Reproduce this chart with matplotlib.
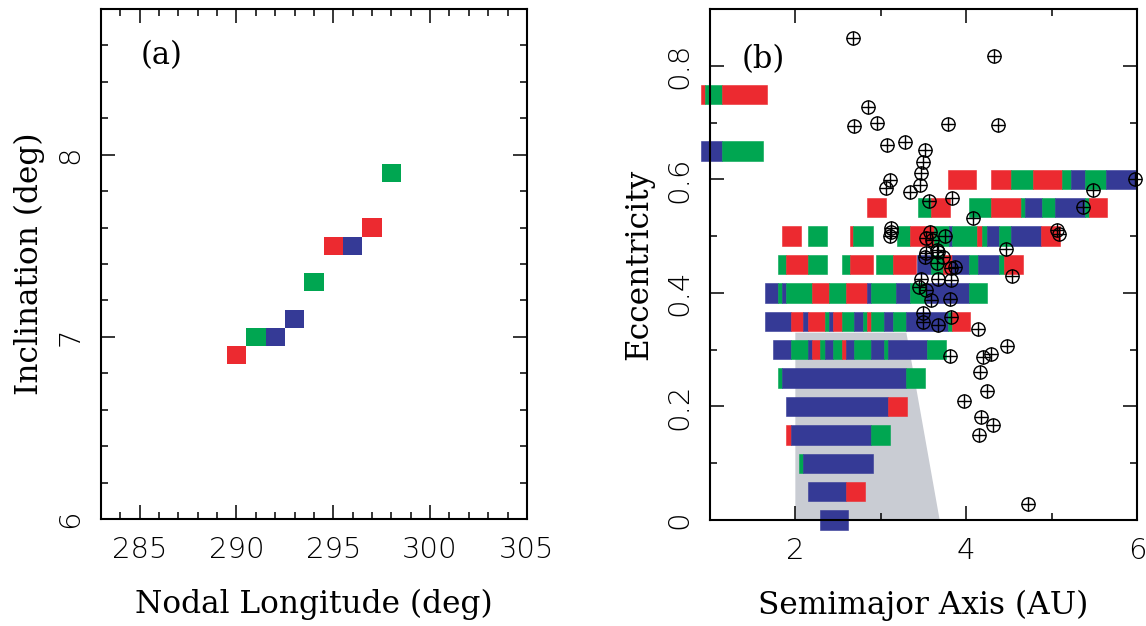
"""
Two-panel figure: (a) inclination vs nodal longitude, (b) eccentricity vs semimajor axis
"""
import numpy as np
import matplotlib.pyplot as plt
from matplotlib.patches import Polygon
from matplotlib.ticker import MultipleLocator

RED = '#ec2a30'
GREEN = '#00a651'
BLUE = '#353a96'
GREY = '#c9ccd3'
COLORS = {'r': RED, 'g': GREEN, 'b': BLUE}

# Panel (a): family members, node vs inclination
node_a = [290, 291, 292, 293, 294, 295, 296, 297, 298]
incl_a = [6.9, 7.0, 7.0, 7.1, 7.3, 7.5, 7.5, 7.6, 7.9]
col_a = ['r', 'g', 'b', 'b', 'g', 'r', 'b', 'r', 'g']

# Panel (b): coloured runs along each eccentricity row, (a_start, a_end, colour)
row_e = [0.75, 0.65, 0.60, 0.55, 0.50, 0.45, 0.40, 0.35, 0.30, 0.25, 0.20, 0.15, 0.10, 0.05, 0.00]
seg_075 = [(0.895, 0.94, 'r'), (0.94, 1.137, 'g'), (1.137, 1.667, 'r')]
seg_065 = [(0.895, 1.137, 'b'), (1.137, 1.62, 'g')]
seg_060 = [(3.787, 4.111, 'r'), (4.287, 4.528, 'r'), (4.528, 4.785, 'g'), (4.785, 5.124, 'r'),
           (5.124, 5.233, 'g'), (5.233, 5.386, 'b'), (5.386, 5.632, 'g'), (5.632, 6.0, 'b')]
seg_055 = [(2.836, 3.058, 'r'), (3.433, 3.585, 'g'), (3.585, 3.807, 'r'), (4.03, 4.287, 'g'),
           (4.287, 4.637, 'r'), (4.637, 4.684, 'g'), (4.684, 4.883, 'b'), (4.883, 5.035, 'g'),
           (5.035, 5.386, 'b'), (5.386, 5.433, 'g'), (5.433, 5.655, 'r')]
seg_050 = [(1.842, 2.064, 'r'), (2.146, 2.368, 'g'), (2.637, 2.68, 'r'), (2.68, 2.906, 'g'),
           (3.187, 3.339, 'g'), (3.339, 3.62, 'r'), (3.62, 3.80, 'g'), (3.80, 3.84, 'b'),
           (3.84, 4.13, 'g'), (4.13, 4.18, 'r'), (4.18, 4.24, 'g'), (4.24, 4.38, 'b'),
           (4.38, 4.53, 'g'), (4.53, 4.88, 'b'), (4.88, 5.10, 'r')]
seg_045 = [(1.795, 1.889, 'g'), (1.889, 2.146, 'r'), (2.146, 2.368, 'g'), (2.544, 2.637, 'g'),
           (2.637, 2.906, 'r'), (2.94, 3.14, 'g'), (3.14, 3.41, 'r'), (3.43, 3.585, 'b'),
           (3.585, 3.73, 'g'), (3.73, 3.83, 'r'), (3.83, 4.03, 'b'), (4.03, 4.14, 'g'),
           (4.14, 4.38, 'b'), (4.38, 4.44, 'g'), (4.44, 4.66, 'r')]
seg_040 = [(1.643, 1.795, 'b'), (1.795, 1.842, 'g'), (1.842, 1.889, 'b'), (1.889, 2.193, 'g'),
           (2.193, 2.392, 'r'), (2.392, 2.591, 'g'), (2.591, 2.836, 'r'), (2.836, 2.883, 'b'),
           (2.883, 3.18, 'g'), (3.18, 3.339, 'b'), (3.339, 3.53, 'g'), (3.53, 4.03, 'b'),
           (4.03, 4.25, 'g')]
seg_035 = [(1.643, 1.947, 'b'), (1.947, 2.088, 'r'), (2.088, 2.146, 'b'), (2.146, 2.345, 'r'),
           (2.345, 2.392, 'g'), (2.392, 2.439, 'b'), (2.439, 2.544, 'r'), (2.544, 2.684, 'g'),
           (2.684, 2.789, 'b'), (2.789, 2.836, 'g'), (2.836, 2.883, 'r'), (2.883, 3.035, 'g'),
           (3.035, 3.14, 'b'), (3.14, 3.29, 'g'), (3.29, 3.787, 'b'), (3.787, 3.83, 'g'),
           (3.83, 4.05, 'r')]
seg_030 = [(1.737, 1.947, 'b'), (1.947, 2.146, 'g'), (2.146, 2.193, 'b'), (2.193, 2.287, 'r'),
           (2.287, 2.345, 'g'), (2.345, 2.439, 'b'), (2.439, 2.544, 'g'), (2.544, 2.591, 'r'),
           (2.591, 2.684, 'b'), (2.684, 2.883, 'g'), (2.883, 3.035, 'b'), (3.035, 3.082, 'g'),
           (3.082, 3.538, 'b'), (3.538, 3.76, 'g')]
seg_025 = [(1.795, 1.842, 'g'), (1.842, 3.29, 'b'), (3.29, 3.515, 'g')]
seg_020 = [(1.889, 3.082, 'b'), (3.082, 3.304, 'r')]
seg_015 = [(1.889, 1.947, 'r'), (1.947, 2.883, 'b'), (2.883, 3.105, 'g')]
seg_010 = [(2.04, 2.088, 'g'), (2.088, 2.906, 'b')]
seg_005 = [(2.146, 2.591, 'b'), (2.591, 2.813, 'r')]
seg_000 = [(2.287, 2.614, 'b')]
row_segs = [seg_075, seg_065, seg_060, seg_055, seg_050, seg_045, seg_040, seg_035,
            seg_030, seg_025, seg_020, seg_015, seg_010, seg_005, seg_000]

# shaded region (a, e corners)
shade_a = [2.0, 2.0, 3.30, 3.69]
shade_e = [0.0, 0.33, 0.33, 0.0]

# known objects (circled plus)
obj_a = [2.672, 4.322, 2.856, 2.684, 2.957, 3.79, 4.368, 3.078, 3.281, 3.52, 3.495, 3.476,
         3.464, 3.105, 3.058, 3.339, 5.98, 5.487, 3.83, 3.565, 4.076, 5.37, 3.12, 3.113,
         3.115, 3.573, 3.534, 3.60, 3.757, 5.067, 5.086, 4.462, 3.659, 3.534, 3.518, 3.67,
         3.729, 3.655, 3.865, 3.827, 4.54, 3.476, 3.675, 3.827, 3.448, 3.534, 3.592, 3.81,
         3.499, 3.499, 3.827, 3.675, 4.135, 3.815, 4.197, 4.287, 4.478, 4.158, 4.248, 3.971,
         4.178, 4.318, 4.15, 4.723]
obj_e = [0.849, 0.818, 0.727, 0.694, 0.700, 0.698, 0.695, 0.660, 0.666, 0.652, 0.631, 0.611,
         0.590, 0.599, 0.584, 0.577, 0.600, 0.582, 0.568, 0.562, 0.532, 0.552, 0.514, 0.500,
         0.507, 0.508, 0.496, 0.493, 0.501, 0.511, 0.504, 0.477, 0.476, 0.470, 0.464, 0.472,
         0.463, 0.453, 0.446, 0.443, 0.430, 0.424, 0.424, 0.423, 0.411, 0.405, 0.388, 0.389,
         0.365, 0.349, 0.358, 0.344, 0.337, 0.289, 0.287, 0.292, 0.307, 0.260, 0.227, 0.210,
         0.181, 0.167, 0.149, 0.029]

LABEL_FONT = 'DejaVu Serif'
TICK_FONT = 'DejaVu Sans'

fig = plt.figure(figsize=(11.46, 6.26), dpi=100)
ax1 = fig.add_axes([0.0881, 0.1709, 0.3717, 0.8147])
ax2 = fig.add_axes([0.6195, 0.1693, 0.3726, 0.8163])


def style_axes(ax):
    for sp in ax.spines.values():
        sp.set_linewidth(1.5)
    ax.tick_params(which='both', direction='in', top=True, right=True, width=1.1)
    ax.tick_params(which='major', length=10)
    ax.tick_params(which='minor', length=5)
    ax.tick_params(axis='x', pad=12, labelsize=21)
    ax.tick_params(axis='y', pad=12, labelsize=21, labelrotation=90)
    for lab in ax.get_xticklabels() + ax.get_yticklabels():
        lab.set_family(TICK_FONT)
        lab.set_fontweight('light')
    for lab in ax.get_yticklabels():
        lab.set_va('center')


# ---- Panel (a)
ax1.bar(node_a, [0.1] * len(node_a), width=1.0, bottom=np.array(incl_a) - 0.05,
        color=[COLORS[c] for c in col_a], linewidth=0)
ax1.set_xlim(283, 305)
ax1.set_ylim(6, 8.8)
ax1.xaxis.set_major_locator(MultipleLocator(5))
ax1.xaxis.set_minor_locator(MultipleLocator(1))
ax1.yaxis.set_major_locator(MultipleLocator(1))
ax1.yaxis.set_minor_locator(MultipleLocator(0.2))
style_axes(ax1)
ax1.set_xlabel('Nodal Longitude (deg)', fontsize=22.5, family=LABEL_FONT, labelpad=18)
ax1.set_ylabel('Inclination (deg)', fontsize=22.5, family=LABEL_FONT, labelpad=8)
ax1.text(0.143, 0.908, '(a)', transform=ax1.transAxes, fontsize=22, family=LABEL_FONT,
         ha='center', va='center')

# ---- Panel (b)
ax2.add_patch(Polygon(np.column_stack([shade_a, shade_e]), closed=True,
                      facecolor=GREY, edgecolor='none', zorder=1))

for e, segs in zip(row_e, row_segs):
    lefts = [s[0] for s in segs]
    widths = [s[1] - s[0] for s in segs]
    cols = [COLORS[s[2]] for s in segs]
    ax2.barh([e] * len(segs), widths, left=lefts, height=0.034, color=cols,
             edgecolor=cols, linewidth=0.4, clip_on=False, zorder=2)

ax2.plot(obj_a, obj_e, 'o', ms=9.5, mfc='none', mec='black', mew=1.0,
         clip_on=False, zorder=4)
ax2.plot(obj_a, obj_e, '+', ms=9.5, color='black', mew=1.0, clip_on=False, zorder=4)

ax2.set_xlim(1, 6)
ax2.set_ylim(0, 0.9)
ax2.xaxis.set_major_locator(MultipleLocator(2))
ax2.xaxis.set_minor_locator(MultipleLocator(1))
ax2.yaxis.set_major_locator(MultipleLocator(0.2))
ax2.yaxis.set_minor_locator(MultipleLocator(0.1))
ax2.set_xticks([2, 4, 6])
ax2.set_xticklabels(['2', '4', '6'])
ax2.set_yticks([0, 0.2, 0.4, 0.6, 0.8])
ax2.set_yticklabels(['0', '0.2', '0.4', '0.6', '0.8'])
style_axes(ax2)
ax2.set_xlabel('Semimajor Axis (AU)', fontsize=22.5, family=LABEL_FONT, labelpad=18)
ax2.set_ylabel('Eccentricity', fontsize=22.5, family=LABEL_FONT, labelpad=8)
ax2.text(0.124, 0.902, '(b)', transform=ax2.transAxes, fontsize=22, family=LABEL_FONT,
         ha='center', va='center')

plt.savefig('out.png', dpi=100)
plt.close()
